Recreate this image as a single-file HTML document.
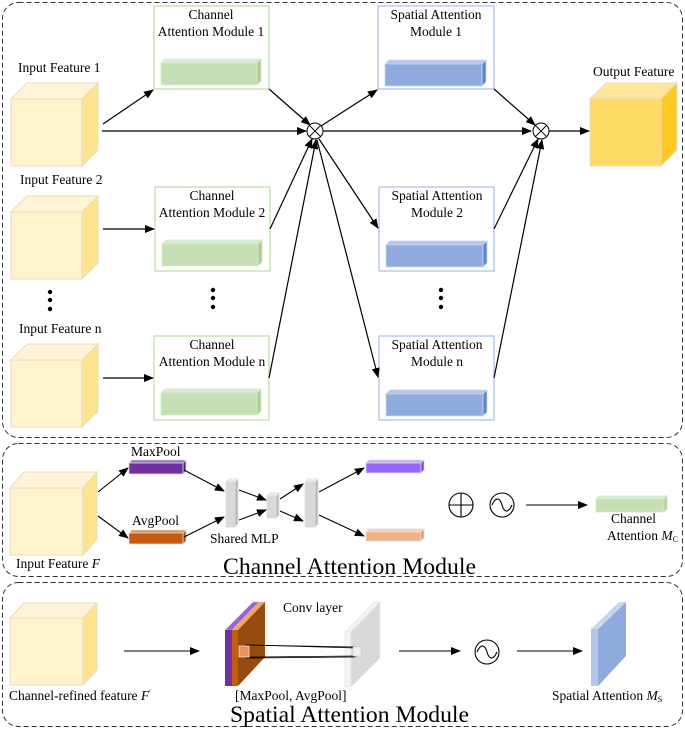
<!DOCTYPE html>
<html><head><meta charset="utf-8"><style>
html,body{margin:0;padding:0;background:#fff;}
svg{display:block;font-family:"Liberation Serif",serif;}
</style></head><body>
<svg width="685" height="729" viewBox="0 0 685 729" xmlns="http://www.w3.org/2000/svg">
<defs>
<marker id="a" markerWidth="10" markerHeight="8" refX="9" refY="4" orient="auto" markerUnits="userSpaceOnUse">
<path d="M0,0 L10,4 L0,8 z" fill="#000"/></marker>
</defs>
<g fill="none" stroke="#333" stroke-dasharray="5,3" stroke-width="1">
<rect x="2.5" y="2.5" width="680" height="435" rx="16"/>
<rect x="2.5" y="443.5" width="680" height="133" rx="16"/>
<rect x="2.5" y="582.5" width="680" height="144" rx="16"/>
</g>
<g stroke="#e8dcc0" stroke-width="1">
<polygon points="11,99 27,83 98,83 82,99" fill="#fff5d6"/>
<polygon points="82,99 98,83 98,150 82,166" fill="#ffe38f"/>
<rect x="11" y="99" width="71" height="67" fill="#fff2cc"/>
<polygon points="11,212 27,196 98,196 82,212" fill="#fff5d6"/>
<polygon points="82,212 98,196 98,263 82,279" fill="#ffe38f"/>
<rect x="11" y="212" width="71" height="67" fill="#fff2cc"/>
<polygon points="11,360 27,344 98,344 82,360" fill="#fff5d6"/>
<polygon points="82,360 98,344 98,411 82,427" fill="#ffe38f"/>
<rect x="11" y="360" width="71" height="67" fill="#fff2cc"/>
<polygon points="590,99 606,83 677,83 661,99" fill="#ffe699"/>
<polygon points="661,99 677,83 677,150 661,166" fill="#ffc926"/>
<rect x="590" y="99" width="71" height="67" fill="#ffd966"/>
<polygon points="10,488 24,472 97,472 83,488" fill="#fff5d6"/>
<polygon points="83,488 97,472 97,539 83,555" fill="#ffe38f"/>
<rect x="10" y="488" width="73" height="67" fill="#fff2cc"/>
<polygon points="10,618 24,603 97,603 83,618" fill="#fff5d6"/>
<polygon points="83,618 97,603 97,670 83,685" fill="#ffe38f"/>
<rect x="10" y="618" width="73" height="67" fill="#fff2cc"/>
</g>
<g fill="#fff" stroke="#b7dba7" stroke-width="1.2">
<rect x="154" y="6" width="115" height="83"/>
<rect x="155" y="187" width="115" height="84"/>
<rect x="154" y="336" width="115" height="84"/>
</g>
<g fill="#fff" stroke="#a9bde6" stroke-width="1.2">
<rect x="378" y="6" width="116" height="83"/>
<rect x="379" y="187" width="115" height="84"/>
<rect x="379" y="336" width="115" height="84"/>
</g>
<g stroke="#d8e8cf" stroke-width="0.8">
<polygon points="161,63 165,59 261,59 257,63" fill="#d9ead3"/><polygon points="257,63 261,59 261,81 257,85" fill="#a9d18e"/><rect x="161" y="63" width="96" height="22" fill="#c5e0b4"/>
<polygon points="162,244 166,240 262,240 258,244" fill="#d9ead3"/><polygon points="258,244 262,240 262,262 258,266" fill="#a9d18e"/><rect x="162" y="244" width="96" height="22" fill="#c5e0b4"/>
<polygon points="161,393 165,389 261,389 257,393" fill="#d9ead3"/><polygon points="257,393 261,389 261,411 257,415" fill="#a9d18e"/><rect x="161" y="393" width="96" height="22" fill="#c5e0b4"/>
<polygon points="596,499 599,496 667,496 664,499" fill="#d9ead3"/><polygon points="664,499 667,496 667,509 664,512" fill="#a9d18e"/><rect x="596" y="499" width="68" height="13" fill="#c5e0b4"/>
</g>
<g stroke="#c9d6ee" stroke-width="0.8">
<polygon points="385,64 389,60 486,60 482,64" fill="#b4c7e7"/><polygon points="482,64 486,60 486,82 482,86" fill="#5b84c9"/><rect x="385" y="64" width="97" height="22" fill="#8faadc"/>
<polygon points="386,245 390,241 487,241 483,245" fill="#b4c7e7"/><polygon points="483,245 487,241 487,263 483,267" fill="#5b84c9"/><rect x="386" y="245" width="97" height="22" fill="#8faadc"/>
<polygon points="386,394 390,390 487,390 483,394" fill="#b4c7e7"/><polygon points="483,394 487,390 487,412 483,416" fill="#5b84c9"/><rect x="386" y="394" width="97" height="22" fill="#8faadc"/>
</g>
<g stroke="#000" stroke-width="1.2" fill="none" marker-end="url(#a)">
<line x1="103" y1="124" x2="153" y2="90"/>
<line x1="102" y1="131" x2="306" y2="131"/>
<line x1="103" y1="229" x2="154" y2="229"/>
<line x1="103" y1="378" x2="153" y2="378"/>
<line x1="269" y1="89" x2="310" y2="125"/>
<line x1="270" y1="229" x2="312" y2="139"/>
<line x1="269" y1="378" x2="316" y2="140"/>
<line x1="321" y1="126" x2="377" y2="90"/>
<line x1="319" y1="139" x2="378" y2="228"/>
<line x1="317" y1="140" x2="378" y2="377"/>
<line x1="494" y1="89" x2="535" y2="125"/>
<line x1="494" y1="229" x2="538" y2="139"/>
<line x1="494" y1="378" x2="542" y2="140"/>
<line x1="549" y1="131" x2="589" y2="131"/>
<line x1="323" y1="131" x2="531" y2="131"/>
</g>
<g stroke="#000" stroke-width="1" fill="#fff">
<circle cx="315" cy="131" r="8"/><circle cx="541" cy="131" r="8"/>
</g>
<g stroke="#000" stroke-width="1">
<line x1="309.3" y1="125.3" x2="320.7" y2="136.7"/><line x1="320.7" y1="125.3" x2="309.3" y2="136.7"/>
<line x1="535.3" y1="125.3" x2="546.7" y2="136.7"/><line x1="546.7" y1="125.3" x2="535.3" y2="136.7"/>
</g>
<g fill="#000">
<circle cx="50" cy="292" r="2.2"/><circle cx="50" cy="300" r="2.2"/><circle cx="50" cy="309" r="2.2"/>
<circle cx="213" cy="290" r="2.2"/><circle cx="213" cy="298" r="2.2"/><circle cx="213" cy="307" r="2.2"/>
<circle cx="441" cy="290" r="2.2"/><circle cx="441" cy="298" r="2.2"/><circle cx="441" cy="307" r="2.2"/>
</g>
<g font-size="13.5" fill="#000">
<text x="18" y="72">Input Feature 1</text>
<text x="20" y="184">Input Feature 2</text>
<text x="19" y="333">Input Feature n</text>
<text x="593" y="76">Output Feature</text>
<text x="211" y="19" text-anchor="middle">Channel</text>
<text x="211" y="36" text-anchor="middle">Attention Module 1</text>
<text x="212" y="200" text-anchor="middle">Channel</text>
<text x="212" y="217" text-anchor="middle">Attention Module 2</text>
<text x="212" y="349" text-anchor="middle">Channel</text>
<text x="212" y="366" text-anchor="middle">Attention Module n</text>
<text x="436" y="19" text-anchor="middle">Spatial Attention</text>
<text x="436" y="36" text-anchor="middle">Module 1</text>
<text x="437" y="200" text-anchor="middle">Spatial Attention</text>
<text x="437" y="217" text-anchor="middle">Module 2</text>
<text x="437" y="349" text-anchor="middle">Spatial Attention</text>
<text x="437" y="366" text-anchor="middle">Module n</text>
</g>
<g stroke="#ddd" stroke-width="0.8">
<polygon points="129,463 132,460 186,460 183,463" fill="#9b6cc7"/><polygon points="183,463 186,460 186,471 183,474" fill="#5a2386"/><rect x="129" y="463" width="54" height="11" fill="#7030a0"/>
<polygon points="129,533 132,530 186,530 183,533" fill="#e39256"/><polygon points="183,533 186,530 186,541 183,544" fill="#a04a0d"/><rect x="129" y="533" width="54" height="11" fill="#c55a11"/>
<polygon points="366,463 369,460 424,460 421,463" fill="#c4a9ff"/><polygon points="421,463 424,460 424,470 421,473" fill="#6a3bd8"/><rect x="366" y="463" width="55" height="10" fill="#9966ff"/>
<polygon points="366,532 369,529 424,529 421,532" fill="#f8cfb1"/><polygon points="421,532 424,529 424,538 421,541" fill="#e09a6a"/><rect x="366" y="532" width="55" height="9" fill="#f4b183"/>
<polygon points="226,482 229,479 238,479 235,482" fill="#eee"/><polygon points="235,482 238,479 238,524 235,527" fill="#bbb"/><rect x="226" y="482" width="9" height="45" fill="#d9d9d9"/>
<polygon points="267,496 270,493 279,493 276,496" fill="#eee"/><polygon points="276,496 279,493 279,515 276,518" fill="#bbb"/><rect x="267" y="496" width="9" height="22" fill="#d9d9d9"/>
<polygon points="305,482 308,479 318,479 315,482" fill="#eee"/><polygon points="315,482 318,479 318,524 315,527" fill="#bbb"/><rect x="305" y="482" width="10" height="45" fill="#d9d9d9"/>
</g>
<g stroke="#000" stroke-width="1.1" fill="none" marker-end="url(#a)">
<line x1="98" y1="492" x2="128" y2="468"/>
<line x1="98" y1="516" x2="128" y2="538"/>
<line x1="184" y1="470" x2="224" y2="491"/>
<line x1="184" y1="537" x2="224" y2="517"/>
<line x1="239" y1="490" x2="266" y2="500"/>
<line x1="239" y1="520" x2="266" y2="510"/>
<line x1="280" y1="499" x2="303" y2="484"/>
<line x1="280" y1="511" x2="303" y2="521"/>
<line x1="319" y1="492" x2="364" y2="468"/>
<line x1="319" y1="515" x2="364" y2="536"/>
<line x1="526" y1="505" x2="587" y2="505"/>
</g>
<g stroke="#000" stroke-width="1.1" fill="none">
<circle cx="461" cy="505" r="12"/><line x1="449" y1="505" x2="473" y2="505"/><line x1="461" y1="493" x2="461" y2="517"/>
<circle cx="502" cy="505" r="12"/><path d="M492,505 C496,496 500,498 502,505 C504,512 508,514 512,505"/>
<circle cx="487" cy="652" r="12"/><path d="M477,652 C481,643 485,645 487,652 C489,659 493,661 497,652"/>
</g>
<g font-size="13.5" fill="#000">
<text x="131" y="456">MaxPool</text>
<text x="132" y="525">AvgPool</text>
<text x="210" y="543">Shared MLP</text>
<text x="16" y="568">Input Feature <tspan font-style="italic">F</tspan></text>
<text x="611" y="523">Channel</text>
<text x="607" y="540">Attention <tspan font-style="italic">M</tspan><tspan font-size="8" dy="2">C</tspan></text>
<text x="223" y="574" font-size="23" textLength="253" lengthAdjust="spacingAndGlyphs">Channel Attention Module</text>
</g>
<polygon points="225,630 253,602 259,602 232,630" fill="#9966cc" stroke="#ccc" stroke-width="0.5"/>
<polygon points="232,630 259,602 265,602 238,630" fill="#f4a460" stroke="#ccc" stroke-width="0.5"/>
<polygon points="238,630 265,602 265,657 238,686" fill="#964b10"/>
<rect x="225" y="630" width="7" height="56" fill="#7030a0"/>
<rect x="232" y="630" width="6" height="56" fill="#c55a11"/>
<polygon points="351,632 380,602 380,658 351,687" fill="#d9d9d9" stroke="#e8e8e8" stroke-width="0.5"/>
<polygon points="345,632 374,602 380,602 351,632" fill="#f2f2f2" stroke="#ddd" stroke-width="0.5"/>
<rect x="345" y="632" width="6" height="55" fill="#f4f4f4" stroke="#ddd" stroke-width="0.5"/>
<g stroke="#000" stroke-width="0.8">
<line x1="250" y1="645" x2="357" y2="648"/><line x1="250" y1="657" x2="357" y2="656"/><line x1="245" y1="645" x2="355" y2="647"/><line x1="246" y1="658" x2="355" y2="657"/>
</g>
<rect x="239" y="646" width="10" height="11" fill="#e8955a" stroke="#fff" stroke-width="0.6"/>
<rect x="353" y="647" width="8" height="9" fill="#eee" stroke="#ccc" stroke-width="0.5"/>
<polygon points="598,629 626,602 626,656 598,686" fill="#8faadc"/>
<polygon points="591,629 619,602 626,602 598,629" fill="#c9d6ee"/>
<rect x="591" y="629" width="7" height="57" fill="#b4c7e7"/>
<g stroke="#000" stroke-width="1.1" marker-end="url(#a)">
<line x1="124" y1="651" x2="199" y2="651"/>
<line x1="399" y1="651" x2="460" y2="651"/>
<line x1="517" y1="651" x2="582" y2="651"/>
</g>
<g font-size="13.5" fill="#000">
<text x="283" y="612">Conv layer</text>
<text x="9" y="700">Channel-refined feature <tspan font-style="italic">F</tspan><tspan font-size="8" dy="-5">'</tspan></text>
<text x="235" y="700">[MaxPool, AvgPool]</text>
<text x="552" y="700">Spatial Attention <tspan font-style="italic">M</tspan><tspan font-size="8" dy="2">S</tspan></text>
<text x="230" y="722" font-size="23" textLength="239" lengthAdjust="spacingAndGlyphs">Spatial Attention Module</text>
</g>
</svg>
</body></html>
